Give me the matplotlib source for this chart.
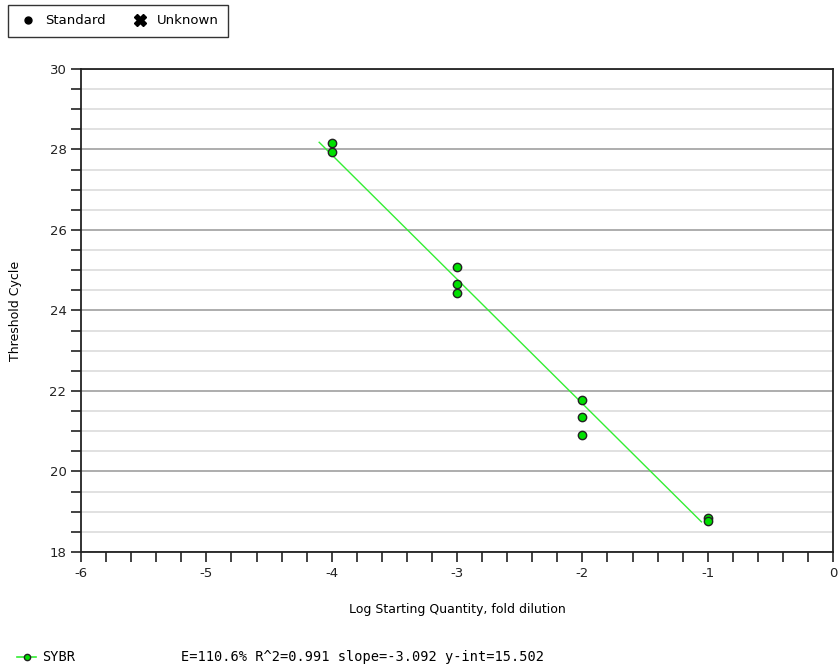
import numpy as np
import matplotlib
matplotlib.use("Agg")
import matplotlib.pyplot as plt
from matplotlib.lines import Line2D
from matplotlib.ticker import MultipleLocator

# standard curve wells: log starting quantity vs threshold cycle
log_qty = [-4, -4, -3, -3, -3, -2, -2, -2, -1, -1]
ct = [28.16, 27.94, 25.08, 24.66, 24.43, 21.78, 21.35, 20.91, 18.84, 18.77]

# fit reported by the instrument
slope = -3.092
yint = 15.502
fit_range = [-4.1, -1.05]
stats_text = "E=110.6% R^2=0.991 slope=-3.092 y-int=15.502"

plt.rcParams['font.family'] = "DejaVu Sans"
plt.rcParams['font.size'] = 9

fig = plt.figure(figsize=(8.38, 6.68), dpi=100)
ax = fig.add_axes([0.0967, 0.1737, 0.8974, 0.7230])

# minor and major horizontal grid
ax.yaxis.set_major_locator(MultipleLocator(2))
ax.yaxis.set_minor_locator(MultipleLocator(0.5))
ax.xaxis.set_major_locator(MultipleLocator(1))
ax.xaxis.set_minor_locator(MultipleLocator(0.2))
ax.grid(which="minor", axis="y", color="#dcdcdc", lw=1.2)
ax.grid(which="major", axis="y", color="#a0a0a0", lw=1.2)
ax.set_axisbelow(True)

xf = np.array(fit_range)
ax.plot(xf, slope * xf + yint, color="#33ee33", lw=1.0, zorder=2)
ax.scatter(log_qty, ct, s=36, facecolor="#00e000", edgecolor="#222222",
           linewidths=1.0, zorder=3)

ax.set_xlim(-6, 0)
ax.set_ylim(18, 30)
ax.tick_params(which="both", direction="out", length=7, width=1.2,
               colors="#222222", labelsize=9.5)
ax.tick_params(which="minor", length=7)
ax.set_xticks([-6, -5, -4, -3, -2, -1, 0])
ax.set_xticklabels(["-6", "-5", "-4", "-3", "-2", "-1", "0"])
for sp in ax.spines.values():
    sp.set_linewidth(1.3)
    sp.set_color("#222222")

ax.set_xlabel("Log Starting Quantity, fold dilution", fontsize=9, labelpad=17)
ax.set_ylabel("Threshold Cycle", fontsize=9, labelpad=20)

# marker key across the top
handles = [Line2D([], [], ls="", marker="o", color="black", ms=5),
           Line2D([], [], ls="", marker="X", color="black", ms=8)]
fig.legend(handles, ["Standard", "Unknown"], loc="upper left",
           bbox_to_anchor=(0.002, 1.002), ncol=2, frameon=True,
           fancybox=False, edgecolor="black", fontsize=9.5,
           handlelength=1.6, handletextpad=0.5, columnspacing=1.8,
           borderpad=0.7)

# series key with fit statistics
fig.add_artist(Line2D([0.020, 0.043], [0.0165, 0.0165], color="#33ee33",
                      lw=1.2, transform=fig.transFigure))
fig.add_artist(Line2D([0.032], [0.0165], ls="", marker="o", ms=4.5,
                      mfc="#00e000", mec="#222222", transform=fig.transFigure))
fig.text(0.050, 0.0165, "SYBR", family="DejaVu Sans Mono", fontsize=9.8,
         va="center")
fig.text(0.216, 0.0165, stats_text, family="DejaVu Sans Mono", fontsize=9.8,
         va="center")

fig.savefig("out.png", dpi=100)
